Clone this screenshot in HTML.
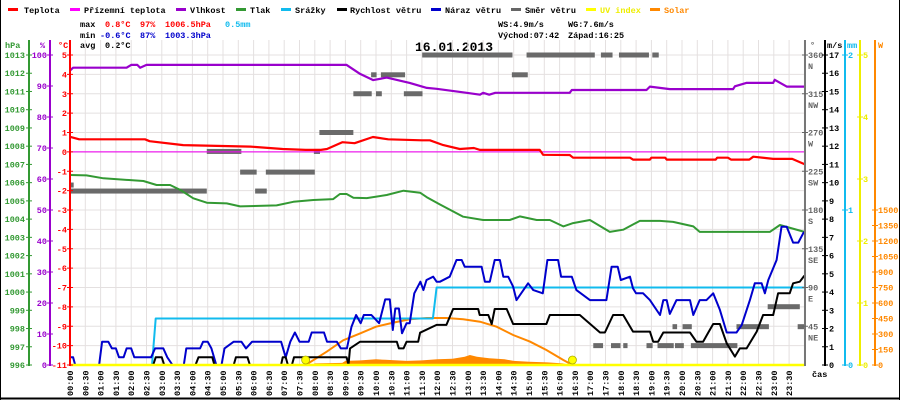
<!DOCTYPE html>
<html><head><meta charset="utf-8">
<style>
html,body{margin:0;padding:0;background:#fff;}
svg{display:block;font-family:"Liberation Mono","DejaVu Sans Mono",monospace;font-size:8.5px;font-weight:bold;}
</style></head>
<body>
<svg id="chart" width="900" height="400" viewBox="0 0 900 400" xmlns="http://www.w3.org/2000/svg">
<rect x="0" y="0" width="900" height="400" fill="#fff"/>
<line x1="0.5" y1="0" x2="0.5" y2="400" stroke="#000"/>
<line x1="899.5" y1="0" x2="899.5" y2="400" stroke="#000"/>
<line x1="0" y1="398.5" x2="900" y2="398.5" stroke="#000" stroke-width="2"/>
<g>
<rect x="8" y="8" width="10" height="3" fill="#f00"/><text x="24" y="13">Teplota</text>
<rect x="70" y="8" width="10" height="3" fill="#f0f"/><text x="84" y="13">Přízemní teplota</text>
<rect x="176" y="8" width="10" height="3" fill="#90c"/><text x="190" y="13">Vlhkost</text>
<rect x="236" y="8" width="10" height="3" fill="#393"/><text x="250" y="13">Tlak</text>
<rect x="281" y="8" width="10" height="3" fill="#1be"/><text x="295" y="13">Srážky</text>
<rect x="337" y="8" width="10" height="3" fill="#000"/><text x="350" y="13">Rychlost větru</text>
<rect x="431" y="8" width="10" height="3" fill="#00c"/><text x="445" y="13">Náraz větru</text>
<rect x="511" y="8" width="10" height="3" fill="#666"/><text x="525" y="13">Směr větru</text>
<rect x="586" y="8" width="10" height="3" fill="#ff0"/><text x="600" y="13" fill="#ee0">UV index</text>
<rect x="650" y="8" width="10" height="3" fill="#f80"/><text x="664" y="13" fill="#f80">Solar</text>
</g>
<g>
<text x="80" y="27">max</text>
<text x="105" y="27" fill="#f00">0.8°C</text>
<text x="140" y="27" fill="#f00">97%</text>
<text x="165" y="27" fill="#f00">1006.5hPa</text>
<text x="225" y="27" fill="#1be">0.5mm</text>
<text x="80" y="38">min</text>
<text x="100" y="38" fill="#00c">-0.6°C</text>
<text x="140" y="38" fill="#00c">87%</text>
<text x="165" y="38" fill="#00c">1003.3hPa</text>
<text x="80" y="48">avg</text>
<text x="105" y="48">0.2°C</text>
<text x="498" y="27">WS:4.9m/s</text>
<text x="568" y="27">WG:7.6m/s</text>
<text x="498" y="38">Východ:07:42</text>
<text x="568" y="38">Západ:16:25</text>
</g>
<text x="415" y="51" style="font-size:13px">16.01.2013</text>
<g id="plot"></g>
</svg>
<script>
// ---- data (hours / values) ----
const tempT=[0,0.3,2.45,2.6,3.7,5.9,6.95,7.7,8.2,8.4,8.9,9.3,9.9,10.4,11.5,11.76,12.2,12.74,13.2,13.4,15.35,15.46,16.33,16.44,18.3,18.4,18.95,19.0,19.45,19.5,21.1,21.15,21.5,21.6,22.2,22.33,22.98,23.6,24];
const tempV=[0.78,0.65,0.65,0.55,0.35,0.27,0.15,0.1,0.1,0.15,0.5,0.45,0.77,0.65,0.6,0.6,0.35,0.15,0.2,0.1,0.1,-0.15,-0.16,-0.3,-0.3,-0.4,-0.4,-0.3,-0.3,-0.4,-0.4,-0.3,-0.3,-0.4,-0.4,-0.25,-0.36,-0.36,-0.63];
const feelsT=[0,24];
const feelsV=[0,0];
const humT=[0,0.1,1.85,2.0,2.2,2.29,2.5,9.04,9.48,9.91,10.35,11.1,11.66,11.98,12.96,13.4,13.5,13.7,13.9,16.33,16.4,18.84,18.95,19.6,21.67,21.73,22.1,22.98,23.03,23.42,24];
const humV=[95,95.9,95.9,96.8,96.8,95.9,96.8,96.8,93.9,91.9,92.7,91,89.4,89.1,87.8,87.2,87.8,87.2,87.8,87.8,88.7,88.7,89.8,89,89,89.9,91,91,92,89.8,89.8];
const presT=[0,0.54,1.09,2.4,2.83,3.27,3.6,4.03,4.47,5.12,5.56,6.75,7.3,7.95,8.6,8.82,9.04,9.26,9.7,10.35,10.9,11.44,11.66,12.09,12.85,13.5,14.37,14.7,15.25,15.68,16.12,16.44,16.99,17.64,18.08,18.62,19.28,19.71,20.37,20.58,22.87,23.2,24];
const presV=[1006.42,1006.4,1006.24,1006.09,1005.87,1005.87,1005.6,1005.14,1004.9,1004.86,1004.7,1004.75,1004.95,1005.05,1005.1,1005.38,1005.38,1005.17,1005.15,1005.32,1005.56,1005.45,1005.2,1004.8,1004.13,1003.95,1003.95,1004.15,1003.95,1003.95,1003.6,1003.78,1003.95,1003.3,1003.42,1003.9,1003.9,1003.85,1003.6,1003.3,1003.3,1003.68,1003.3];
const rainT=[0,2.68,2.8,11.86,11.98,24];
const rainV=[0,0,0.3,0.3,0.5,0.5];
const windT=[0,2.72,2.8,3.0,3.08,4.1,4.2,4.65,4.72,5.35,5.42,5.8,5.88,6.9,6.95,7.05,7.12,7.25,7.32,9.04,9.1,9.15,9.48,10.68,10.75,10.9,11.0,11.38,11.44,11.98,12.3,12.52,13.34,13.39,13.67,13.78,13.88,14.27,14.48,15.57,15.68,16.66,17.32,17.48,17.75,18.08,18.4,18.95,19.06,19.22,19.39,20.26,20.47,20.69,20.86,21.02,21.24,21.46,21.73,21.89,22.11,22.44,22.65,22.98,23.14,23.52,23.63,23.85,24];
const windV=[0,0,0.42,0.42,0,0,0.42,0.42,0,0,0.42,0.42,0,0,0.42,0.42,0,0,0.42,0.42,0,0.91,1.28,1.28,0.91,0.91,1.28,1.28,1.77,2.2,2.2,3.07,3.07,2.74,2.74,2.25,3.07,3.07,2.25,2.25,2.74,2.74,1.78,1.78,2.74,2.74,1.83,1.83,1.28,1.28,1.78,1.78,1.28,1.28,1.78,2.25,2.25,1.19,0.46,0.91,0.91,1.83,2.74,2.74,3.93,3.93,4.48,4.57,4.9];
const gustT=[0,0.1,0.17,0.95,1.05,1.25,1.37,1.5,1.6,1.75,1.85,2.0,2.1,2.65,2.78,3.05,3.18,3.35,3.72,3.8,4.25,4.35,4.5,4.62,4.78,4.95,5.05,5.35,5.6,5.75,5.95,6.9,7.05,7.2,7.35,7.5,7.8,7.9,8.3,8.4,8.72,8.85,9.05,9.2,9.35,9.5,9.6,9.85,10.1,10.3,10.45,10.55,10.63,10.75,10.85,11.0,11.1,11.25,11.45,11.55,11.65,11.87,11.98,12.09,12.41,12.63,12.8,12.9,13.45,13.56,13.72,13.88,14.05,14.16,14.32,14.48,14.59,14.97,15.14,15.45,15.6,15.95,16.05,16.4,16.55,16.99,17.53,17.7,17.9,18.0,18.3,18.4,18.5,18.73,18.95,19.28,19.39,19.5,19.6,19.82,20.26,20.37,20.58,20.8,21.02,21.24,21.46,21.78,21.95,22.22,22.38,22.6,22.71,22.82,23.09,23.25,23.42,23.63,23.8,23.96,24];
const gustV=[0.42,0.42,0,0,1.28,1.28,0.91,0.91,0.42,0.42,0.91,0.91,0.42,0.42,0.91,0.91,0.42,0,0,0.91,0.91,1.28,1.28,0.91,0,0,0.91,1.28,1.28,0.91,1.28,1.28,0.42,1.28,1.78,1.28,1.28,1.78,1.78,1.28,1.28,0.91,0.91,2.1,2.74,2.29,2.74,2.74,2.29,3.6,3.6,1.92,3.1,3.1,1.74,2.29,2.29,3.93,4.57,4.11,4.66,4.84,4.57,4.57,4.84,5.76,5.76,5.39,5.39,4.57,4.57,5.76,5.76,4.84,4.84,4.3,3.56,4.48,4.11,3.93,5.76,5.76,4.84,4.84,4.11,3.56,3.56,5.39,5.39,4.66,4.84,4.2,3.93,3.93,3.56,2.74,3.56,3.56,2.8,3.56,3.56,2.74,3.56,3.56,3.93,3.02,1.78,1.78,2.19,3.56,4.48,4.48,3.93,4.66,5.76,7.58,7.58,6.71,6.71,7.22,7.3];
const solarCalcT=[7.7,8.39,8.93,9.48,10.0,10.57,11.1,11.66,12.3,12.85,13.4,13.94,14.48,15.03,15.57,16.12,16.42];
const solarCalcV=[0,129,240,306,371,410,442,455,455,442,419,371,290,226,145,48,0];
const solarT=[7.9,8.0,8.9,9.0,9.5,10.0,10.3,11.0,11.5,12.0,12.5,12.9,13.07,13.3,13.7,14.2,14.5,15.0,15.6,16.1,16.35];
const solarV=[0,15,20,40,45,55,50,40,45,55,60,80,97,80,65,55,40,32,25,15,0];
const uvT=[0,24];
const uvV=[0,0];
const sunEvents=[7.7,16.42];
const dirStart=[0,0,4.47,5.56,6.05,6.4,7.97,8.15,9.26,9.84,10.0,10.16,10.91,11.51,14.44,14.92,17.35,17.94,19.03,17.1,17.68,18.08,18.84,19.2,19.77,20.29,19.69,20.02,21.78,23.78,22.8];
const dirEnd=[0.12,4.47,5.6,6.1,6.43,8.0,8.17,9.26,9.86,10.02,10.19,10.95,11.52,14.46,14.96,17.15,17.73,18.92,19.24,17.42,17.99,18.22,19.04,19.73,20.06,21.81,19.84,20.32,22.84,24,23.85];
const dirDeg=[209,202,248,224,202,224,248,270,315,337,315,337,315,360,337,360,360,360,360,22.5,22.5,22.5,22.5,22.5,22.5,22.5,44.5,44.5,44.5,44.5,67.7];
const tickLabels=["00:00","00:30","01:00","01:30","02:00","02:30","03:00","03:30","04:00","04:30","05:00","05:30","06:00","06:30","07:00","07:30","08:00","08:30","09:00","09:30","10:00","10:30","11:00","11:30","12:00","12:30","13:00","13:30","14:00","14:30","15:00","15:30","16:00","16:30","17:00","17:30","18:00","18:30","19:00","19:30","20:00","20:30","21:00","21:30","22:00","22:30","23:00","23:30"];
const compass=["","NE","E","SE","S","SW","W","NW","N"];

// ---- scales ----
const X0=70, PXH=30.6, YT=55, YB=365, H=310;
const xs=h=>X0+h*PXH;
const yT=t=>YT+(5-t)*H/16;
const yH=v=>YT+(100-v)*H/100;
const yP=p=>YT+(1013-p)*H/17;
const yW=v=>YB-v*H/17;
const yR=m=>YB-m*H/2;
const yS=w=>YB-w*H/3000;
const yD=d=>YB-d*H/360;
const yU=u=>YB-u*H/5;

const NS="http://www.w3.org/2000/svg";
const plot=document.getElementById('plot');
function mk(tag,attrs,parent,txt){const e=document.createElementNS(NS,tag);for(const k in attrs)e.setAttribute(k,attrs[k]);if(txt!==undefined)e.textContent=txt;(parent||plot).appendChild(e);return e;}
function pts(T,V,fy){return T.map((t,i)=>xs(t).toFixed(1)+','+fy(V[i]).toFixed(1)).join(' ');}

// grid
for(let i=0;i<=48;i++){const x=xs(i/2);
 const g=mk('line',{x1:x,y1:40,x2:x,y2:YB,stroke:'#e4e0e0','stroke-width':1});
 
 }
for(let t=-11;t<=5;t++){const y=yT(t);
 const g=mk('line',{x1:X0,y1:y,x2:xs(24),y2:y,stroke:'#e4e0e0','stroke-width':1});
 
 }
const zl=mk('line',{x1:X0,y1:yT(0),x2:xs(24),y2:yT(0),stroke:'#888','stroke-width':1});



// wind direction
for(let i=0;i<dirDeg.length;i++){
 const r=mk('rect',{x:xs(dirStart[i]),y:yD(dirDeg[i])-2.5,width:Math.max(2,xs(dirEnd[i])-xs(dirStart[i])),height:5,fill:'#6a6a6a'});
 
 }

// solar measured fill
const sf=mk('polygon',{points:xs(solarT[0])+','+YB+' '+pts(solarT,solarV,yS)+' '+xs(solarT[solarT.length-1])+','+YB,fill:'#f80'});


const sc=mk('polyline',{points:pts(solarCalcT,solarCalcV,yS),fill:'none',stroke:'#f80','stroke-width':2});



function series(T,V,fy,col,w,name){const l=mk('polyline',{points:pts(T,V,fy),fill:'none',stroke:col,'stroke-width':w,'stroke-linejoin':'round'});
 
 }
series(presT,presV,yP,'#393',2,'pressure-line');
series(humT,humV,yH,'#90c',2.2,'humidity-line');
series(feelsT,feelsV,yT,'#f0f',1,'feels-like-line');
series(tempT,tempV,yT,'#f00',2.2,'temperature-line');
series(rainT,rainV,yR,'#1be',2,'rain-line');
series(gustT,gustV,yW,'#00c',2,'gust-line');
series(windT,windV,yW,'#000',2,'wind-speed-line');
series(uvT,uvV,yU,'#ff0',2.5,'uv-line');
for(const h of sunEvents){const c=mk('circle',{cx:xs(h),cy:360,r:4,fill:'#ff0',stroke:'#aa0','stroke-width':0.8});
 
 }

// x axis labels
for(let i=0;i<tickLabels.length;i++){const x=xs(i/2);
 const t=mk('text',{transform:'translate('+(x+3)+',396) rotate(-90)'},plot,tickLabels[i]);
 
 }
const cas=mk('text',{x:812,y:377},plot,'čas');



// vertical axes
function axis(x,col,name){const l=mk('line',{x1:x,y1:40,x2:x,y2:YB+1,stroke:col,'stroke-width':2});
 
 }
function tick(x,y,col,txt,lx,anchor,name){const l=mk('line',{x1:x-3,y1:y,x2:x+3,y2:y,stroke:col,'stroke-width':1});
 
 
 if(txt!==null){const t=mk('text',{x:lx,y:y+3,fill:col,'text-anchor':anchor},plot,txt);
 
 }}
axis(29,'#393','pressure-axis');
for(let p=996;p<=1013;p++)tick(29,yP(p),'#393',String(p),25,'end','pressure-axis');
axis(50,'#90c','humidity-axis');
for(let v=0;v<=100;v+=10)tick(50,yH(v),'#90c',String(v),47,'end','humidity-axis');
axis(70,'#f00','temperature-axis');
for(let t=-11;t<=5;t++)tick(70,yT(t),'#f00',String(t),67,'end','temperature-axis');
const t1=mk('text',{x:5,y:48,fill:'#393'},plot,'hPa');
const t2=mk('text',{x:40,y:48,fill:'#90c'},plot,'%');
const t3=mk('text',{x:58,y:48,fill:'#f00'},plot,'°C');

axis(805,'#777','direction-axis');
for(let d=45;d<=360;d+=45){tick(805,yD(d),'#666',String(d),808,'start','direction-axis');
 const c=mk('text',{x:808,y:yD(d)+14,fill:'#666'},plot,compass[d/45]);
 
 }
axis(825,'#000','wind-speed-axis');
for(let v=0;v<=17;v++)tick(825,yW(v),'#000',String(v),829,'start','wind-speed-axis');
axis(845,'#1be','rain-axis');
for(let m=0;m<=2;m++)tick(845,yR(m),'#1be',String(m),848,'start','rain-axis');
axis(860,'#ee0','uv-axis');
for(let u=0;u<=5;u++)tick(860,yU(u),'#ee0',String(u),863,'start','uv-axis');
axis(875,'#f80','solar-axis');
for(let w=0;w<=1500;w+=150)tick(875,yS(w),'#f80',String(w),878,'start','solar-axis');
const r1=mk('text',{x:810,y:48,fill:'#666'},plot,'°');
const r2=mk('text',{x:827,y:48},plot,'m/s');
const r3=mk('text',{x:847,y:48,fill:'#1be'},plot,'mm');
const r4=mk('text',{x:878,y:48,fill:'#f80'},plot,'W');
</script>
</body></html>
